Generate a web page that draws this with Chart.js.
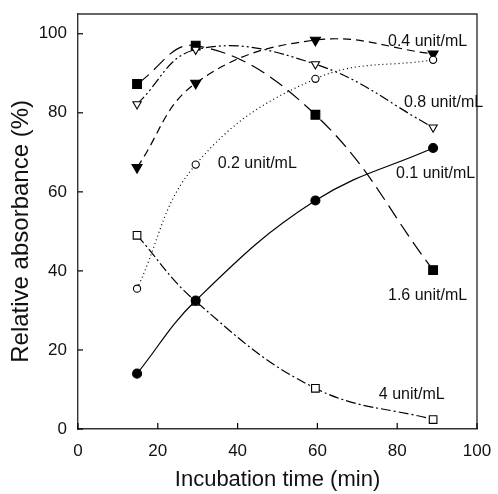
<!DOCTYPE html>
<html lang="en">
  <head>
    <meta charset="UTF-8" />
    <title>Relative absorbance vs incubation time</title>
    <script src="https://cdn.jsdelivr.net/npm/chart.js"></script>
    <style>
      html, body { margin: 0; padding: 0; background: #fff; }
      #wrap { width: 498px; height: 494px; }
    </style>
  </head>
  <body>
    <div id="wrap"><canvas id="absChart"></canvas></div>

    <script>
      // data
      const times = [14.8, 29.5, 59.5, 89];
      const conc01 = [14, 32.5, 57.8, 71.1];
      const conc02 = [35.5, 66.9, 88.6, 93.4];
      const conc04 = [66.2, 87.5, 98.4, 94.9];
      const conc08 = [82.2, 96, 92.3, 76.3];
      const conc16 = [87.3, 97, 79.5, 40.2];
      const conc4 = [49, 32.3, 10.3, 2.4];

      // curve labels
      const labelTexts = ["0.4 unit/mL", "0.8 unit/mL", "0.2 unit/mL", "0.1 unit/mL", "1.6 unit/mL", "4 unit/mL"];
      const labelX = [77.7, 81.7, 35, 79.7, 77.7, 75.4];
      const labelY = [98, 82.7, 67.2, 64.6, 33.8, 8.6];

      const xTicks = [0, 20, 40, 60, 80, 100];
      const yTicks = [0, 20, 40, 60, 80, 100];
      const yTitle = "Relative absorbance (%)";

      const FONT = "'Liberation Sans', Arial, Helvetica, sans-serif";

      function pts(vals) {
        return vals.map((v, i) => ({ x: times[i], y: v }));
      }

      function series(vals, style, filled, radius, dash, rotation) {
        return {
          data: pts(vals),
          borderColor: "#000",
          borderWidth: 1.2,
          borderDash: dash,
          tension: 0.4,
          fill: false,
          pointStyle: style,
          pointRotation: rotation || 0,
          pointRadius: radius,
          pointBackgroundColor: filled ? "#000" : "#fff",
          pointBorderColor: "#000",
          pointBorderWidth: 1.1,
        };
      }

      // inward ticks, top/right frame, curve labels, y title
      const extras = {
        id: "extras",
        afterDraw(chart) {
          const c = chart.ctx;
          const a = chart.chartArea;
          const xs = chart.scales.x;
          const ys = chart.scales.y;
          c.save();
          c.strokeStyle = "#333";
          c.lineWidth = 1.4;
          c.beginPath();
          c.moveTo(a.left, a.top);
          c.lineTo(a.right, a.top);
          c.lineTo(a.right, a.bottom);
          c.stroke();
          c.lineWidth = 1.2;
          c.strokeStyle = "#000";
          yTicks.forEach((v) => {
            const p = ys.getPixelForValue(v);
            c.beginPath();
            c.moveTo(a.left, p);
            c.lineTo(a.left + 5, p);
            c.stroke();
          });
          xTicks.forEach((v) => {
            const p = xs.getPixelForValue(v);
            c.beginPath();
            c.moveTo(p, a.bottom);
            c.lineTo(p, a.bottom - 6);
            c.stroke();
          });
          c.fillStyle = "#111";
          c.font = "16px " + FONT;
          c.textAlign = "left";
          c.textBaseline = "middle";
          labelTexts.forEach((t, i) => {
            c.fillText(t, xs.getPixelForValue(labelX[i]), ys.getPixelForValue(labelY[i]));
          });
          // y title centred on the 0-100 range
          c.translate(21, ys.getPixelForValue(50));
          c.rotate(-Math.PI / 2);
          c.textAlign = "center";
          c.font = "24px " + FONT;
          c.fillText(yTitle, 0, 0);
          c.restore();
        },
      };

      const ctx = document.getElementById("absChart").getContext("2d");
      new Chart(ctx, {
        type: "line",
        data: {
          datasets: [
            series(conc01, "circle", true, 4.5, []),
            series(conc02, "circle", false, 3.6, [1, 3]),
            series(conc04, "triangle", true, 5.8, [8, 5], 180),
            series(conc08, "triangle", false, 4.8, [10, 3, 2, 3, 2, 3], 180),
            series(conc16, "rect", true, 6.2, [15, 7]),
            series(conc4, "rect", false, 5.4, [10, 3, 2, 3]),
          ],
        },
        options: {
          responsive: true,
          maintainAspectRatio: false,
          animation: false,
          layout: { padding: { top: 14, right: 21, left: 0, bottom: 0 } },
          plugins: {
            legend: { display: false },
            tooltip: { enabled: false },
          },
          scales: {
            x: {
              type: "linear",
              min: 0,
              max: 100,
              afterFit: (s) => {
                s.height = 65;
                s.paddingLeft = 0;
                s.paddingRight = 0;
              },
              grid: { display: true, drawOnChartArea: false, drawTicks: false },
              border: { display: true, color: "#333", width: 1.4 },
              ticks: {
                stepSize: 20,
                padding: 12,
                color: "#111",
                font: { family: FONT, size: 17 },
                maxRotation: 0,
              },
              title: {
                display: true,
                text: "Incubation time (min)",
                color: "#111",
                font: { family: FONT, size: 22 },
                padding: { top: 0, bottom: 1 },
              },
            },
            y: {
              type: "linear",
              min: 0,
              max: 105,
              afterFit: (s) => {
                s.width = 78;
                s.paddingTop = 0;
                s.paddingBottom = 0;
              },
              afterBuildTicks: (s) => {
                s.ticks = yTicks.map((v) => ({ value: v }));
              },
              grid: { display: true, drawOnChartArea: false, drawTicks: false },
              border: { display: true, color: "#333", width: 1.4 },
              ticks: {
                padding: 11,
                color: "#111",
                font: { family: FONT, size: 17 },
              },
            },
          },
        },
        plugins: [extras],
      });
    </script>
  </body>
</html>
